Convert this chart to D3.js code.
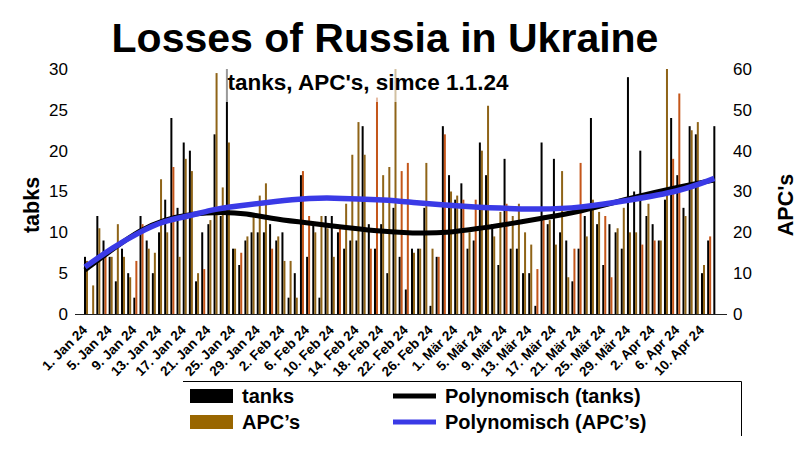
<!DOCTYPE html>
<html><head><meta charset="utf-8">
<script src="https://cdn.jsdelivr.net/npm/d3@7"></script>
<style>body{margin:0;background:#fff}svg{display:block;font-family:"Liberation Sans",Arial,sans-serif}</style>
</head><body>
<svg id="chart" width="807" height="451"></svg>
<script>
// ---- data ----
const firstDay = new Date(2024, 0, 1);
const lastDayExcl = new Date(2024, 3, 13);
const tickLabels = ["1. Jan 24","5. Jan 24","9. Jan 24","13. Jan 24","17. Jan 24","21. Jan 24","25. Jan 24","29. Jan 24",
  "2. Feb 24","6. Feb 24","10. Feb 24","14. Feb 24","18. Feb 24","22. Feb 24","26. Feb 24",
  "1. Mär 24","5. Mär 24","9. Mär 24","13. Mär 24","17. Mär 24","21. Mär 24","25. Mär 24","29. Mär 24",
  "2. Apr 24","6. Apr 24","10. Apr 24"];
const tanks = [7,0,12,9,7,4,8,5,2,12, 9,5,10,14,24,13,21,20,4,10,
  11,22,12,30,8,6,9,10,10,10, 11,9,10,2,5,17,7,11,2,12,
  12,10,8,9,9,23,11,8,11,5, 13,7,3,8,8,13,1,7,23,17,
  14,16,8,9,21,17,11,6,19,8, 8,5,5,1,21,11,19,10,9,4,
  8,12,24,11,6,11,10,8,29,15, 20,12,11,9,14,24,17,13,23,22,
  5,9,23];
const apcs = [13,7,21,14,14,22,14,9,13,22, 16,15,33,20,36,14,38,35,10,11,
  23,59,31,42,16,15,19,24,29,32, 16,19,13,13,4,35,24,20,24,21,
  14,21,27,39,47,39,16,53,34,36, 60,35,37,15,16,37,16,14,44,30,
  29,28,20,28,40,51,19,25,27,24, 27,20,17,11,23,23,17,35,9,16,
  37,19,28,25,24,9,21,26,20,20, 17,27,18,18,60,38,54,24,45,47,
  12,19,0];
// days whose APC bar is drawn in the orange shade
const apcOrangeDays = [3,8,9,14,19,25,30,35,36,41,46,47,51,52,57,58,61,63,68,73,74,79,80,84,85,90,92,95,96,101];
// polynomial trend lines: [day index, value]
const tankTrend = [[0,5.4],[4.6,8.0],[8.9,10.3],[12.7,11.5],[17,12.3],[22.7,12.5],[26,12.3],[30.3,11.7],[34.4,11.3],
  [39.7,10.8],[47.8,10.1],[53,9.9],[58.7,9.9],[64,10.5],[69.4,11.1],[73.7,11.7],[80.2,12.5],[88.3,14.2],[96.4,15.6],[102,16.4]];
const apcTrend = [[0,11.5],[4.6,16.4],[8.9,20.1],[12.7,22.8],[17,24.0],[20.3,25.5],[24,26.3],[34.4,28.3],[39.7,28.5],
  [49.3,27.9],[53,27.3],[61.3,26.3],[73.7,25.5],[80.2,26.0],[88.3,27.9],[96.4,30.0],[102,33.2]];
const leftTicks = [0,5,10,15,20,25,30];
const rightTicks = [0,10,20,30,40,50,60];

// ---- chart ----
const days = d3.timeDay.range(firstDay, lastDayExcl);
const svg = d3.select("#chart");
const C = {black:"#000000", olive:"#8f6418", orange:"#c4561a", blue:"#3a3ae6"};
const x = d3.scaleBand().domain(d3.range(days.length)).range([82, 717.5]);
const yL = d3.scaleLinear().domain([0,30]).range([314,69]);
const yR = d3.scaleLinear().domain([0,60]).range([314,69]);
const orangeSet = new Set(apcOrangeDays);

// title
svg.append("text").attr("x",385).attr("y",52).attr("text-anchor","middle")
  .attr("font-size",41).attr("font-weight","bold").text("Losses of Russia in Ukraine");

// bars
const bw = 2;
svg.append("g").selectAll("rect").data(tanks).join("rect")
  .attr("x",(d,i)=>x(i)+2).attr("width",bw)
  .attr("y",d=>yL(d)).attr("height",d=>yL(0)-yL(d)).attr("fill",C.black);
svg.append("g").selectAll("rect").data(apcs).join("rect")
  .attr("x",(d,i)=>x(i)+4).attr("width",bw)
  .attr("y",d=>yR(d)).attr("height",d=>yR(0)-yR(d))
  .attr("fill",(d,i)=>orangeSet.has(i)?C.orange:C.olive);

// baseline
svg.append("line").attr("x1",75).attr("x2",727).attr("y1",314.5).attr("y2",314.5)
  .attr("stroke","#222").attr("stroke-width",1);

// trend lines
const lineL = d3.line().x(d=>x(0)+3+d[0]*x.step()).y(d=>yL(d[1])).curve(d3.curveBasis);
const lineR = d3.line().x(d=>x(0)+3+d[0]*x.step()).y(d=>yR(d[1])).curve(d3.curveBasis);
svg.append("path").attr("d",lineL(tankTrend)).attr("fill","none").attr("stroke",C.black).attr("stroke-width",5);
svg.append("path").attr("d",lineR(apcTrend)).attr("fill","none").attr("stroke",C.blue).attr("stroke-width",5.5);

// subtitle with translucent box
svg.append("rect").attr("x",225).attr("y",68).attr("width",288).attr("height",34).attr("fill","#fff").attr("opacity",0.6);
svg.append("text").attr("x",368).attr("y",90).attr("text-anchor","middle")
  .attr("font-size",22.5).attr("font-weight","bold").text("tanks, APC's, simce 1.1.24");

// left axis
const axL = svg.append("g").attr("transform","translate(80,0)")
  .call(d3.axisLeft(yL).tickValues(leftTicks).tickSize(0).tickPadding(12));
axL.select(".domain").remove();
axL.selectAll("text").attr("font-size",17).attr("font-family","Liberation Sans, Arial, sans-serif").attr("fill","#000");
// right axis
const axR = svg.append("g").attr("transform","translate(720,0)")
  .call(d3.axisRight(yR).tickValues(rightTicks).tickSize(0).tickPadding(13));
axR.select(".domain").remove();
axR.selectAll("text").attr("font-size",17).attr("font-family","Liberation Sans, Arial, sans-serif").attr("fill","#000");

// axis titles
svg.append("text").attr("transform","translate(39,205) rotate(-90)").attr("text-anchor","middle")
  .attr("font-size",21.5).attr("font-weight","bold").text("tabks");
svg.append("text").attr("transform","translate(793,205) rotate(-90)").attr("text-anchor","middle")
  .attr("font-size",21.5).attr("font-weight","bold").text("APC's");

// x tick labels (every 4th day)
const xa = svg.append("g");
tickLabels.forEach((t,k)=>{
  const i = k*4;
  const px = x(i)+6, py = 331;
  xa.append("text").attr("transform",`translate(${px},${py}) rotate(-45)`).attr("text-anchor","end")
    .attr("font-size",13.5).attr("font-weight","bold").text(t);
});

// legend
const lg = svg.append("g");
lg.append("path").attr("d","M183,381.5H741.5V436").attr("fill","none").attr("stroke","#000").attr("stroke-width",1);
const legendItems = [
  {label:"tanks", type:"rect", color:C.black, x:190, y:396},
  {label:"APC’s", type:"rect", color:"#996600", x:190, y:422},
  {label:"Polynomisch (tanks)", type:"line", color:C.black, x:393, y:396},
  {label:"Polynomisch (APC’s)", type:"line", color:C.blue, x:393, y:422}
];
legendItems.forEach(it=>{
  if(it.type==="rect") lg.append("rect").attr("x",it.x).attr("y",it.y-7).attr("width",43).attr("height",14).attr("fill",it.color);
  else lg.append("line").attr("x1",it.x).attr("x2",it.x+43).attr("y1",it.y).attr("y2",it.y).attr("stroke",it.color).attr("stroke-width",5);
  lg.append("text").attr("x",it.x+52).attr("y",it.y+7).attr("font-size",20).attr("font-weight","bold").text(it.label);
});
</script>
</body></html>
